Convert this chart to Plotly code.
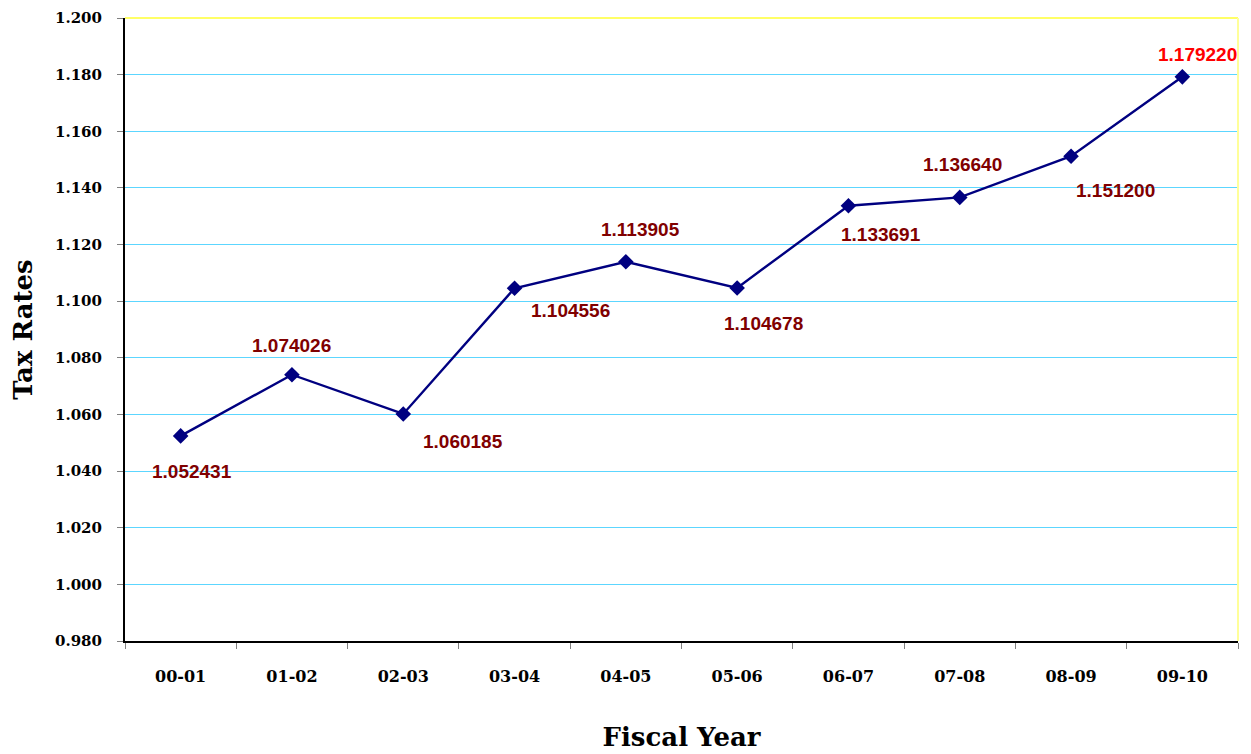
import plotly.graph_objects as go

years = ["00-01", "01-02", "02-03", "03-04", "04-05", "05-06", "06-07", "07-08", "08-09", "09-10"]
rates = [1.052431, 1.074026, 1.060185, 1.104556, 1.113905, 1.104678, 1.133691, 1.136640, 1.151200, 1.179220]
labels = ["1.052431", "1.074026", "1.060185", "1.104556", "1.113905", "1.104678", "1.133691", "1.136640", "1.151200", "1.179220"]
y_ticks = [0.98, 1.0, 1.02, 1.04, 1.06, 1.08, 1.10, 1.12, 1.14, 1.16, 1.18, 1.20]

# label offsets in pixels (style)
offsets = [(11, -36), (0, 29), (60, -28), (56, -22), (15, 32), (26, -36), (33, -29), (3, 33), (44, -34), (15, 22)]
label_colors = ["#800000"] * 9 + ["#FF0000"]

fig = go.Figure()
fig.add_trace(go.Scatter(
    x=years, y=rates, mode="lines+markers",
    line=dict(color="#000080", width=2.4),
    marker=dict(symbol="diamond", size=12, color="#000080"),
    hoverinfo="skip", showlegend=False,
))

for i, (yr, v, lab) in enumerate(zip(years, rates, labels)):
    dx, dy = offsets[i]
    fig.add_annotation(x=yr, y=v, text="<b>%s</b>" % lab, showarrow=False,
                       xshift=dx, yshift=dy,
                       font=dict(family="Liberation Sans, Arial", size=19, color=label_colors[i]))

# yellow top/right border
fig.add_shape(type="line", xref="paper", yref="paper", x0=0, x1=1, y0=1, y1=1,
              line=dict(color="#FFFF66", width=2))
fig.add_shape(type="line", xref="paper", yref="paper", x0=1, x1=1, y0=0, y1=1,
              line=dict(color="#FFFF99", width=2))

serif = "DejaVu Serif, Liberation Serif, serif"

fig.update_layout(
    width=1251, height=754,
    margin=dict(l=117, r=21, t=10, b=121),
    paper_bgcolor="white", plot_bgcolor="white",
    font=dict(family=serif, color="black"),
    xaxis=dict(
        type="category", tickson="boundaries", ticks="outside", ticklen=6, tickcolor="#808080",
        showline=True, linecolor="black", linewidth=2, showgrid=False, automargin=False,
        tickfont=dict(family=serif, size=16, color="black", weight="bold"),
        ticklabelstandoff=20,
        title=dict(text="<b>Fiscal Year</b>", font=dict(family=serif, size=26, color="black"), standoff=43),
        range=[-0.5, 9.5],
    ),
    yaxis=dict(
        range=[0.98, 1.2], tickvals=y_ticks, tickformat=".3f", automargin=False,
        ticks="outside", ticklen=6, tickcolor="#808080",
        showline=True, linecolor="black", linewidth=2,
        showgrid=True, gridcolor="#5CD6FF", gridwidth=1,
        tickfont=dict(family=serif, size=15, color="black", weight="bold"),
        ticklabelstandoff=12,
        title=dict(text="<b>Tax Rates</b>", font=dict(family=serif, size=26, color="black"), standoff=17),
        zeroline=False,
    ),
)

fig.write_html("out.html")
